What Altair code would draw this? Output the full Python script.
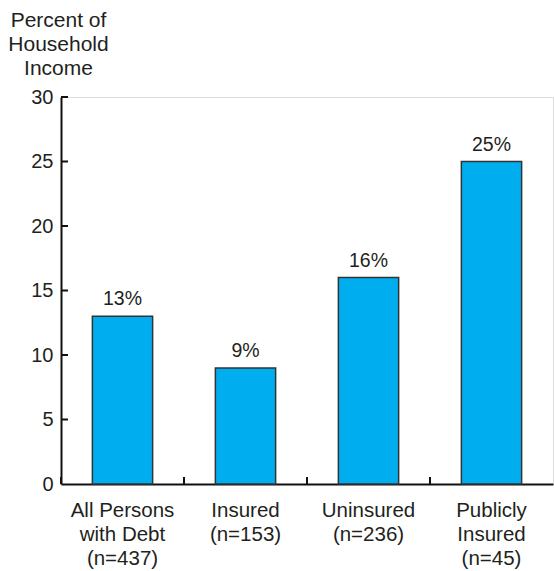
import altair as alt
import pandas as pd

categories = ["All Persons|with Debt|(n=437)", "Insured|(n=153)", "Uninsured|(n=236)", "Publicly|Insured|(n=45)"]
values = [13, 9, 16, 25]
value_labels = ["13%", "9%", "16%", "25%"]
y_ticks = [5, 10, 15, 20, 25, 30]

df = pd.DataFrame({"cat": categories, "val": values, "lab": value_labels})
tdf = pd.DataFrame({"t": y_ticks})

FONT = "Liberation Sans"
TXT = "#231f20"
W, H = 492, 387

xenc = alt.X("cat:N", sort=categories,
             scale=alt.Scale(paddingInner=0, paddingOuter=0),
             axis=alt.Axis(title=None, labelExpr="split(datum.label, '|')",
                           labelAngle=0, labelFontSize=20.5, labelFont=FONT,
                           labelColor=TXT, labelLineHeight=24, labelBaseline="alphabetic",
                           labelPadding=32, ticks=False, tickSize=0,
                           domainColor="#111", domainWidth=2))
yscale = alt.Scale(domain=[0, 30], nice=False)

bars = alt.Chart(df).mark_bar(color="#00aeef", stroke="#333333", strokeWidth=1.5,
                              width=alt.RelativeBandSize(0.49)).encode(
    x=xenc,
    y=alt.Y("val:Q", scale=yscale,
            axis=alt.Axis(values=[0, 5, 10, 15, 20, 25, 30], grid=False, ticks=False, tickSize=0,
                          labelFontSize=20, labelFont=FONT, labelColor=TXT, labelPadding=8,
                          domainColor="#111", domainWidth=2,
                          title=["Percent of", "Household", "Income"],
                          titleAngle=0, titleX=-3, titleY=-71, titleAlign="center",
                          titleBaseline="alphabetic", titleFontSize=21, titleFont=FONT,
                          titleFontWeight="normal", titleColor=TXT, titleLineHeight=24))
)

texts = alt.Chart(df).mark_text(dy=-11, baseline="alphabetic", fontSize=19.5, font=FONT,
                                color=TXT).encode(
    x=alt.X("cat:N", sort=categories),
    y=alt.Y("val:Q", scale=yscale),
    text="lab:N",
)

xticks = alt.Chart(df).mark_rule(color="#111", strokeWidth=2).encode(
    x=alt.X("cat:N", sort=categories, bandPosition=0),
    y=alt.value(H), y2=alt.value(H - 7),
)

yticks = alt.Chart(tdf).mark_rule(color="#111", strokeWidth=2).encode(
    y=alt.Y("t:Q", scale=yscale),
    x=alt.value(0), x2=alt.value(7),
)

chart = alt.layer(bars, texts, xticks, yticks).properties(
    width=W, height=H,
    autosize=alt.AutoSizeParams(type="none"),
    padding={"left": 61, "top": 97, "right": 1, "bottom": 87},
).configure_view(stroke=None).configure(background="white")

chart.save("out.html", embed_options={"renderer": "svg", "actions": False})
